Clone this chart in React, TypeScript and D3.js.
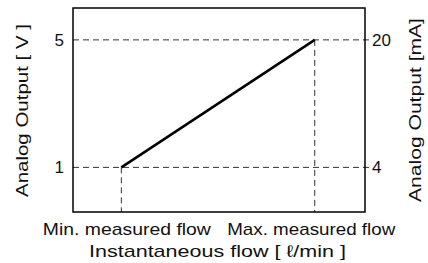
import React from 'react'
import { scaleLinear, line } from 'd3'

const flowPoints = [0, 1]
const voltPoints = [1, 5]
const voltTicks = [1, 5]
const currentTicks = [4, 20]
const flowLabels = ['Min. measured flow', 'Max. measured flow']

export default function App() {
  const width = 428
  const height = 263
  const margin = { top: 8, right: 63, bottom: 51, left: 73 }
  const w = width - margin.left - margin.right
  const h = height - margin.top - margin.bottom

  const x = scaleLinear().domain([-0.25, 1.26]).range([0, w])
  const y = scaleLinear().domain([-0.4, 6]).range([h, 0])
  // current output is 4-20 mA over 1-5 V
  const y2 = scaleLinear().domain([4 + (-0.4 - 1) * 4, 4 + (6 - 1) * 4]).range([h, 0])

  const pts = flowPoints.map((f, i) => [x(f), y(voltPoints[i])] as [number, number])
  const path = line()(pts)
  const font = '"Liberation Sans", Arial, sans-serif'
  const dash = '6,4'
  const dashColor = '#333'
  const fs = 17
  const labelShift = [5.5, -3.5]

  return (
    <svg width={width} height={height} style={{ position: 'absolute', left: 0, top: 0 }} fontFamily={font} fill="#111">
      <g transform={`translate(${margin.left},${margin.top})`}>
        {voltTicks.map(v => (
          <line key={'h' + v} x1={0} x2={w + 4} y1={y(v)} y2={y(v)} stroke={dashColor} strokeWidth={1} strokeDasharray={dash} />
        ))}
        {flowPoints.map((f, i) => (
          <line key={'v' + f} x1={x(f)} x2={x(f)} y1={y(voltPoints[i])} y2={h} stroke={dashColor} strokeWidth={1} strokeDasharray={dash} />
        ))}
        <path d={path || ''} fill="none" stroke="#000" strokeWidth={2.5} />
        <rect x={0} y={0} width={w} height={h} fill="none" stroke="#000" strokeWidth={1.5} />
        {voltTicks.map(v => (
          <text key={'lt' + v} x={-9} y={y(v)} dy="0.36em" textAnchor="end" fontSize={fs}>{v}</text>
        ))}
        {currentTicks.map(c => (
          <text key={'rt' + c} x={w + 7} y={y2(c)} dy="0.36em" textAnchor="start" fontSize={fs}>{c}</text>
        ))}
        {flowLabels.map((l, i) => (
          <text key={l} x={x(flowPoints[i]) + labelShift[i]} y={h + 23} textAnchor="middle" fontSize={fs}
            textLength={168} lengthAdjust="spacingAndGlyphs">{l}</text>
        ))}
        <text x={217.5 - margin.left} y={h + 45} textAnchor="middle" fontSize={fs}
          textLength={257} lengthAdjust="spacingAndGlyphs">Instantaneous flow [ ℓ/min ]</text>
        <text transform={`translate(${28 - margin.left},${110.5 - margin.top}) rotate(-90)`} textAnchor="middle" fontSize={fs}
          textLength={173} lengthAdjust="spacingAndGlyphs">Analog Output [ V ]</text>
        <text transform={`translate(${421 - margin.left},${110 - margin.top}) rotate(-90)`} textAnchor="middle" fontSize={fs}
          textLength={184} lengthAdjust="spacingAndGlyphs">Analog Output [mA]</text>
      </g>
    </svg>
  )
}
